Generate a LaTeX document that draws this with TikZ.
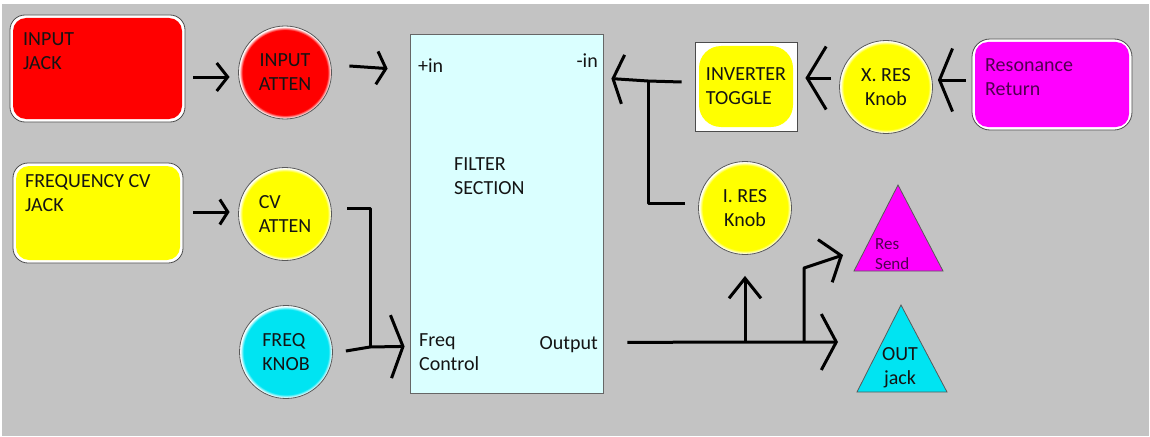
\documentclass[tikz,border=0pt]{standalone}
\usepackage{fontspec}
\setmainfont{Carlito}
\usetikzlibrary{arrows.meta}
\definecolor{bg}{RGB}{195,195,195}
\definecolor{filtc}{RGB}{218,255,255}
\definecolor{cy}{RGB}{0,228,242}
\definecolor{mg}{RGB}{255,0,255}
\definecolor{yl}{RGB}{255,255,0}
\definecolor{rd}{RGB}{255,0,0}
\definecolor{purp}{RGB}{80,0,80}
\definecolor{ink}{RGB}{20,20,20}
\pgfdeclareradialshading{glowY}{\pgfpointorigin}{color(0bp)=(yl); color(22.8bp)=(yl); color(24.6bp)=(white); color(50bp)=(white)}
\pgfdeclareradialshading{glowR}{\pgfpointorigin}{color(0bp)=(rd); color(22.8bp)=(rd); color(24.6bp)=(white); color(50bp)=(white)}
\pgfdeclareradialshading{glowC}{\pgfpointorigin}{color(0bp)=(cy); color(22.8bp)=(cy); color(24.6bp)=(white); color(50bp)=(white)}
\tikzset{
  txt/.style={inner sep=0pt, align=left, text=ink, font=\fontsize{20}{24}\selectfont},
  knob/.style={circle, draw=black!65, line width=0.8pt, inner sep=0pt, minimum size=93pt,
    text=ink, font=\fontsize{20}{24}\selectfont, align=center, shade, shading=#1},
  rbox/.style={draw=black!70, line width=0.8pt, rounded corners=15pt, fill=white, inner sep=0pt,
    path picture={\fill[#1, rounded corners=13pt] ([shift={(3pt,3pt)}]path picture bounding box.south west) rectangle ([shift={(-3pt,-3pt)}]path picture bounding box.north east);}},
  wire/.style={line width=3pt, black, line join=round},
  barb/.style 2 args={-{Straight Barb[length=#1,width=#2]}},
  tri/.style={draw=black!65, line width=0.8pt}
}
\begin{document}
\begin{tikzpicture}[x=1pt,y=-1pt]
\useasboundingbox (0,0) rectangle (1150,436);
\fill[white] (0,0) rectangle (1150,436);
\fill[bg] (2,4) rectangle (1149,436);

% left column
\node[rbox=rd, minimum width=175pt, minimum height=107pt] (injack) at (97.5,68.5) {};
\node[txt, anchor=north west] (injackt) at (23,32) {INPUT\\JACK};
\node[knob=glowR] (inatt) at (285,72.5) {INPUT\\ATTEN};

\node[rbox=yl, minimum width=170pt, minimum height=100pt] (fcvjack) at (98,213) {};
\node[txt, anchor=north west] (fcvjackt) at (25,174) {FREQUENCY CV\\JACK};
\node[knob=glowY, align=left] (cvatt) at (285,214) {CV\\ATTEN};
\node[knob=glowC, align=left] (fknob) at (286,352) {FREQ\\KNOB};

% filter
\node[draw=black!60, line width=0.8pt, fill=filtc, minimum width=193pt, minimum height=359pt] (filter) at (506.5,213.5) {};
\node[txt, anchor=base west] (pin) at (418,72) {+in};
\node[txt, anchor=base east] (min) at (598,67) {-in};
\node[txt, anchor=north west] (ftitle) at (454,157) {FILTER\\SECTION};
\node[txt, anchor=north west] (fctl) at (419,333) {Freq\\Control};
\node[txt, anchor=base east] (fout) at (598,349) {Output};

% right side
\node[draw=black!70, line width=0.8pt, fill=white, minimum width=102pt, minimum height=89pt,
  txt, align=left, inner sep=0pt,
  path picture={\fill[yl, rounded corners=22pt] ([shift={(4pt,4pt)}]path picture bounding box.south west) rectangle ([shift={(-4pt,-4pt)}]path picture bounding box.north east);}]
  (invtoggle) at (746,86.5) {INVERTER\\TOGGLE};
\node[knob=glowY] (xres) at (886,87) {X. RES\\Knob};
\node[rbox=mg, minimum width=160pt, minimum height=91pt, rounded corners=18pt] (resret) at (1052,84.5) {};
\node[txt, anchor=north west, text=purp] (resrett) at (985,58) {Resonance\\Return};
\node[knob=glowY] (iresknob) at (745,208) {I. RES\\Knob};

% triangles
\coordinate (rsw) at (854,271);
\coordinate (rtop) at (898,185);
\coordinate (rse) at (943,271);
\filldraw[tri, fill=mg] (rsw) -- (rtop) -- (rse) -- cycle;
\node[inner sep=0pt, align=left, text=purp, font=\fontsize{17}{20}\selectfont, anchor=north west] (ressend) at (875,238) {Res\\Send};
\coordinate (osw) at (857,392);
\coordinate (otop) at (901,305);
\coordinate (ose) at (947,392);
\filldraw[tri, fill=cy] (osw) -- (otop) -- (ose) -- cycle;
\node[txt, align=center] (outjack) at (900,368) {OUT\\jack};

% connectors
\draw[wire, barb={11pt}{28pt}] ([shift={(8pt,-8.5pt)}]injack.east) -- ([shift={(-8.5pt,-4.5pt)}]inatt.west);
\draw[wire, barb={9pt}{33pt}] ([shift={(17.5pt,6.5pt)}]inatt.east) -- ([shift={(-22pt,-35pt)}]filter.north west);
\draw[wire, barb={8pt}{25pt}] ([shift={(10pt,1pt)}]fcvjack.east) -- ([shift={(-8.5pt,2pt)}]cvatt.west);
\coordinate (fj) at (370,347);
\draw[wire] ([shift={(15.5pt,6pt)}]cvatt.east) -| (fj);
\draw[wire, barb={12pt}{63pt}] ([shift={(13pt,1pt)}]fknob.east) -- (fj) -- ([shift={(-5pt,47pt)}]filter.south west);

\coordinate (jn) at (648,81);
\draw[wire, barb={10pt}{49pt}] ([shift={(-13pt,4.5pt)}]invtoggle.west) -- (jn) -- ([shift={(8pt,-45pt)}]filter.north east);
\draw[wire] ([shift={(-13pt,5pt)}]iresknob.west) -| (jn);
\draw[wire, barb={19pt}{63pt}] ([shift={(-8pt,9pt)}]xres.west) -- ([shift={(8pt,8.5pt)}]invtoggle.east);
\draw[wire, barb={13pt}{63pt}] ([shift={(-6pt,4.5pt)}]resret.west) -- ([shift={(5pt,7pt)}]xres.east);

\coordinate (oj1) at (745,342);
\coordinate (oj2) at (804,342);
\draw[wire, barb={15pt}{56pt}] ([shift={(24pt,51pt)}]filter.south east) -- (oj1) -- (oj2) -- ([shift={(-19pt,50pt)}]osw);
\draw[wire, barb={20pt}{32pt}] (oj1) -- ([yshift=-21pt]iresknob.south);
\draw[wire, barb={17pt}{45pt}] (oj2) -- ([shift={(-50pt,3pt)}]rsw) -- ([shift={(-11pt,16pt)}]rsw);
\end{tikzpicture}
\end{document}
